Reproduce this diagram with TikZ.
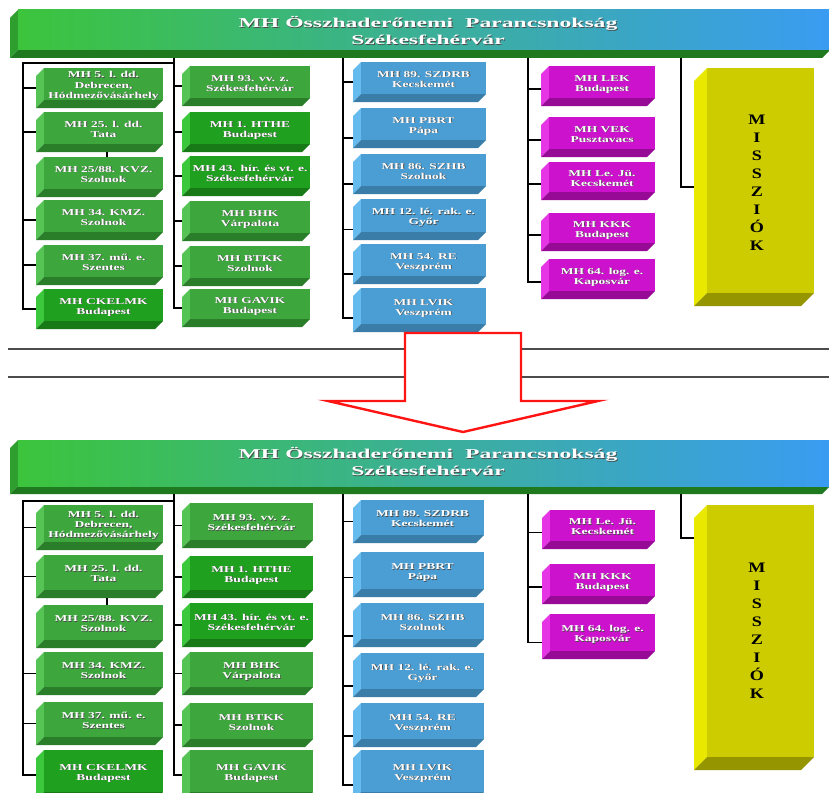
\documentclass[tikz,border=0pt]{standalone}
\usepackage{fontspec}
\setmainfont{Liberation Serif}
\usepackage{graphicx}
\usetikzlibrary{calc}
\definecolor{gL}{HTML}{55C455}
\definecolor{gF}{HTML}{3DA63D}
\definecolor{gD}{HTML}{2A7E2A}
\definecolor{hL}{HTML}{3CC83C}
\definecolor{hF}{HTML}{1FA01F}
\definecolor{hD}{HTML}{177A17}
\definecolor{bL}{HTML}{66BBEE}
\definecolor{bF}{HTML}{4A9ED4}
\definecolor{bD}{HTML}{397DA8}
\definecolor{pL}{HTML}{E535E5}
\definecolor{pF}{HTML}{CC12CC}
\definecolor{pD}{HTML}{960A96}
\definecolor{yL}{HTML}{E8E800}
\definecolor{yF}{HTML}{CCCC00}
\definecolor{yD}{HTML}{959500}
\definecolor{banL}{HTML}{3CC43C}
\definecolor{banR}{HTML}{3A9CF2}
\definecolor{banS}{HTML}{2E9E2E}
\definecolor{banD}{HTML}{1F7A1F}
\definecolor{arrowred}{HTML}{FF1414}
\newcommand\lbl[2]{\scalebox{#1}[1]{\begin{tabular}{@{}c@{}}#2\end{tabular}}}
% faces of a 3D box: name, x0, y0, x1, y1, depth, colour prefix
\newcommand\ufaces[7]{%
  \fill[#7L] (#2,#3+#6) -- (#2+#6,#3) -- (#2+#6,#5-#6) -- (#2,#5) -- cycle;
  \fill[#7D] (#2,#5) -- (#2+#6,#5-#6) -- (#4,#5-#6) -- (#4-#6,#5) -- cycle;
  \fill[#7F] (#2+#6,#3) rectangle (#4,#5-#6);
  \node[outer, minimum width={(#4-#2)*1pt}, minimum height={(#5-#3)*1pt}] (#1) at ({(#2+#4)/2},{(#3+#5)/2}) {};
}
% box with white shadowed text
\newcommand\ubox[8]{%
  \ufaces{#1}{#2}{#3}{#4}{#5}{#6}{#7}%
  \node[btxt, text=black!70] (#1s) at ({(#2+#6+#4)/2+0.8},{(#3+#5-#6)/2+2.8}) {\lbl{1.5}{#8}};
  \node[btxt, text=white] (#1t) at ({(#2+#6+#4)/2},{(#3+#5-#6)/2+2}) {\lbl{1.5}{#8}};
}
% banner: name, y0, y1, text y centre
\newcommand\banner[4]{%
  \fill[banS] (10,#2+8) -- (18,#2) -- (18,#3-8) -- (10,#3) -- cycle;
  \fill[banD] (10,#3) -- (18,#3-8) -- (830,#3-8) -- (822,#3) -- cycle;
  \shade[left color=banL, right color=banR] (18,#2) rectangle (830,#3-8);
  \node[outer, minimum width=820pt, minimum height={(#3-#2)*1pt}] (#1) at (420,{(#2+#3)/2}) {};
  \node[ttxt, text=black!70] (#1s) at (428.9,#4+0.9) {\lbl{1.75}{MH Összhaderőnemi\ \ Parancsnokság\\Székesfehérvár}};
  \node[ttxt, text=white] (#1t) at (428,#4) {\lbl{1.75}{MH Összhaderőnemi\ \ Parancsnokság\\Székesfehérvár}};
}
% horizontal stub from trunk coordinate #1 to node #2 shifted down by #3
\newcommand\stub[3]{%
  \coordinate (stubend) at ([yshift=-#3pt]#2.west);
  \draw[conn] (#1 |- stubend) -- (stubend);
}
\tikzset{
  outer/.style={rectangle, draw=none, inner sep=0pt, outer sep=0pt},
  btxt/.style={inner sep=0pt, font=\fontsize{9}{10}\selectfont\bfseries},
  ttxt/.style={inner sep=0pt, font=\fontsize{13.5}{17}\selectfont\bfseries},
  mtxt/.style={inner sep=0pt, font=\fontsize{14.5}{18}\selectfont\bfseries, text=black},
  conn/.style={draw=black, line width=1.6pt},
  divline/.style={draw=black!70, line width=1.3pt},
  bigarrow/.style={draw=arrowred, line width=2.4pt, fill=white, line join=miter}
}
\begin{document}
\begin{tikzpicture}[x=1pt,y=-1pt]
\useasboundingbox (0,0) rectangle (829,792);
\clip (0,0) rectangle (829,792);
\fill[white] (0,0) rectangle (829,792);

% ================= TOP DIAGRAM =================
\banner{ban1}{10}{58}{33}

\ubox{a1}{36}{68}{163}{108}{8}{g}{MH 5. l. dd.\\Debrecen,\\Hódmezővásárhely}
\ubox{a2}{36}{112}{163}{152}{8}{g}{MH 25. l. dd.\\Tata}
\ubox{a3}{36}{157}{163}{197}{8}{g}{MH 25/88. KVZ.\\Szolnok}
\ubox{a4}{36}{200}{163}{240}{8}{g}{MH 34. KMZ.\\Szolnok}
\ubox{a5}{36}{245}{163}{285}{8}{g}{MH 37. mű. e.\\Szentes}
\ubox{a6}{36}{289}{163}{329}{8}{h}{MH CKELMK\\Budapest}

\ubox{b1}{182}{66}{310}{106}{8}{g}{MH 93. vv. z.\\Székesfehérvár}
\ubox{b2}{182}{112}{310}{152}{8}{h}{MH 1. HTHE\\Budapest}
\ubox{b3}{182}{156}{310}{196}{8}{h}{MH 43. hír. és vt. e.\\Székesfehérvár}
\ubox{b4}{182}{201}{310}{241}{8}{g}{MH BHK\\Várpalota}
\ubox{b5}{182}{246}{310}{286}{8}{g}{MH BTKK\\Szolnok}
\ubox{b6}{182}{289}{310}{327}{8}{g}{MH GAVIK\\Budapest}

\ubox{c1}{353}{62}{486}{102}{8}{b}{MH 89. SZDRB\\Kecskemét}
\ubox{c2}{353}{108}{486}{148}{8}{b}{MH PBRT\\Pápa}
\ubox{c3}{353}{154}{486}{194}{8}{b}{MH 86. SZHB\\Szolnok}
\ubox{c4}{353}{199}{486}{240}{8}{b}{MH 12. lé. rak. e.\\Győr}
\ubox{c5}{353}{244}{486}{284}{8}{b}{MH 54. RE\\Veszprém}
\ubox{c6}{353}{288}{486}{332}{8}{b}{MH LVIK\\Veszprém}

\ubox{d1}{541}{66}{655}{106}{8}{p}{MH LEK\\Budapest}
\ubox{d2}{541}{117}{655}{157}{8}{p}{MH VEK\\Pusztavacs}
\ubox{d3}{541}{162}{655}{200}{8}{p}{MH Le. Jü.\\Kecskemét}
\ubox{d4}{541}{213}{655}{251}{8}{p}{MH KKK\\Budapest}
\ubox{d5}{541}{259}{655}{299}{8}{p}{MH 64. log. e.\\Kaposvár}

\ufaces{m1}{694}{68}{814}{306}{13}{y}
\node[mtxt] (m1t) at (757,184) {\scalebox{1.25}[1]{\begin{tabular}{@{}c@{}}M\\I\\S\\S\\Z\\I\\Ó\\K\end{tabular}}};

\coordinate (k1) at (23,63);
\coordinate (k2) at (174,58);
\coordinate (k3) at (343,58);
\coordinate (k4) at (528,58);
\coordinate (k5) at (681,58);
\draw[conn] (k2 |- k1) -- (k1) |- (a6.west);
\foreach \n in {a1,a2,a4,a5} {\stub{k1}{\n}{0}}
\draw[conn] ($(a2.south west)!0.56!(a2.south east)$) -- ($(a3.north west)!0.56!(a3.north east)$);
\draw[conn] (k2) |- (b6.west);
\foreach \n in {b1,b2,b3,b4,b5} {\stub{k2}{\n}{0}}
\draw[conn] (k3) |- ([yshift=-8pt]c6.west);
\stub{k3}{c1}{0}
\foreach \n in {c2,c3,c4,c5} {\stub{k3}{\n}{10}}
\draw[conn] (k4) |- ([yshift=-3pt]d5.west);
\foreach \n in {d1,d2,d3,d4} {\stub{k4}{\n}{3}}
\draw[conn] (k5) |- (m1.west);

% ================= DIVIDER AND ARROW =================
\draw[divline] (8,349) -- (829,349);
\draw[divline] (8,377) -- (829,377);
\draw[bigarrow] (405,333) -- (521,333) -- (521,401) -- (598,401) -- (463,432) -- (328,401) -- (405,401) -- cycle;

% ================= BOTTOM DIAGRAM =================
\banner{ban2}{440}{494}{464}

\ubox{e1}{36}{505}{163}{550}{8}{g}{MH 5. l. dd.\\Debrecen,\\Hódmezővásárhely}
\ubox{e2}{36}{555}{163}{598}{8}{g}{MH 25. l. dd.\\Tata}
\ubox{e3}{36}{605}{163}{648}{8}{g}{MH 25/88. KVZ.\\Szolnok}
\ubox{e4}{36}{652}{163}{695}{8}{g}{MH 34. KMZ.\\Szolnok}
\ubox{e5}{36}{702}{163}{745}{8}{g}{MH 37. mű. e.\\Szentes}
\ubox{e6}{36}{750}{163}{800}{8}{h}{MH CKELMK\\Budapest}

\ubox{f1}{182}{503}{313}{548}{8}{g}{MH 93. vv. z.\\Székesfehérvár}
\ubox{f2}{182}{556}{313}{598}{8}{h}{MH 1. HTHE\\Budapest}
\ubox{f3}{182}{603}{313}{647}{8}{h}{MH 43. hír. és vt. e.\\Székesfehérvár}
\ubox{f4}{182}{652}{313}{695}{8}{g}{MH BHK\\Várpalota}
\ubox{f5}{182}{703}{313}{747}{8}{g}{MH BTKK\\Szolnok}
\ubox{f6}{182}{750}{313}{800}{8}{g}{MH GAVIK\\Budapest}

\ubox{g1}{353}{500}{484}{543}{8}{b}{MH 89. SZDRB\\Kecskemét}
\ubox{g2}{353}{552}{484}{597}{8}{b}{MH PBRT\\Pápa}
\ubox{g3}{353}{603}{484}{647}{8}{b}{MH 86. SZHB\\Szolnok}
\ubox{g4}{353}{653}{484}{697}{8}{b}{MH 12. lé. rak. e.\\Győr}
\ubox{g5}{353}{703}{484}{747}{8}{b}{MH 54. RE\\Veszprém}
\ubox{g6}{353}{750}{484}{800}{8}{b}{MH LVIK\\Veszprém}

\ubox{h1}{542}{510}{655}{549}{8}{p}{MH Le. Jü.\\Kecskemét}
\ubox{h2}{542}{564}{655}{604}{8}{p}{MH KKK\\Budapest}
\ubox{h3}{542}{614}{655}{659}{8}{p}{MH 64. log. e.\\Kaposvár}

\ufaces{m2}{694}{505}{814}{770}{13}{y}
\node[mtxt] (m2t) at (757,632) {\scalebox{1.25}[1]{\begin{tabular}{@{}c@{}}M\\I\\S\\S\\Z\\I\\Ó\\K\end{tabular}}};

\coordinate (q1) at (23,501);
\coordinate (q2) at (174,494);
\coordinate (q3) at (343,494);
\coordinate (q4) at (528,494);
\coordinate (q5) at (681,494);
\draw[conn] (q2 |- q1) -- (q1) |- (e6.west);
\foreach \n in {e1,e2,e4,e5} {\stub{q1}{\n}{0}}
\draw[conn] ($(e2.south west)!0.56!(e2.south east)$) -- ($(e3.north west)!0.56!(e3.north east)$);
\draw[conn] (q2) |- (f6.west);
\foreach \n in {f1,f2,f3,f4,f5} {\stub{q2}{\n}{0}}
\draw[conn] (q3) |- ([yshift=-10pt]g6.west);
\stub{q3}{g1}{0}
\stub{q3}{g2}{3}
\foreach \n in {g3,g4,g5} {\stub{q3}{\n}{11}}
\draw[conn] (q4) |- ([yshift=-6pt]h3.west);
\foreach \n in {h1,h2} {\stub{q4}{\n}{3}}
\draw[conn] (q5) |- ([yshift=-33pt]m2.north west);
\end{tikzpicture}
\end{document}
